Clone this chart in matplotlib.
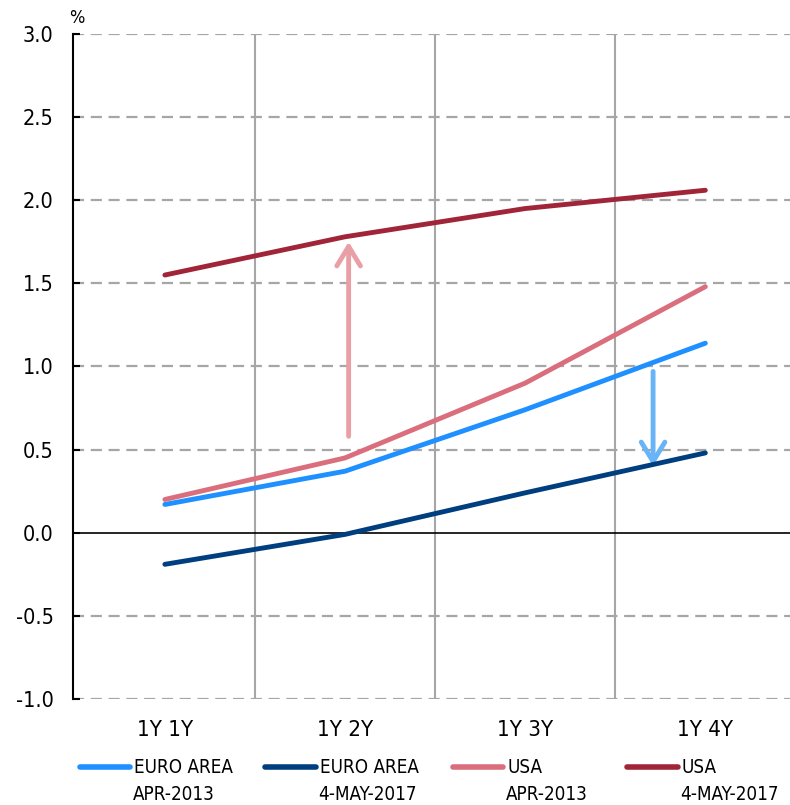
import matplotlib
matplotlib.use("Agg")
import matplotlib.pyplot as plt
from matplotlib.lines import Line2D

plt.rcParams["font.family"] = ["DejaVu Sans"]
plt.rcParams["font.stretch"] = "condensed"

categories = ["1Y 1Y", "1Y 2Y", "1Y 3Y", "1Y 4Y"]
euro_2013 = [0.17, 0.37, 0.74, 1.14]
euro_2017 = [-0.19, -0.01, 0.24, 0.48]
usa_2013 = [0.20, 0.45, 0.90, 1.48]
usa_2017 = [1.55, 1.78, 1.95, 2.06]

series_names = ["EURO AREA\nAPR-2013", "EURO AREA\n4-MAY-2017", "USA\nAPR-2013", "USA\n4-MAY-2017"]
series_colors = ["#1E90FF", "#003F7F", "#DA6E7C", "#A12538"]

# arrows: (x position, start, end)
arrow_up = (2.02, 0.58, 1.75)
arrow_down = (3.71, 0.97, 0.40)

fig = plt.figure(figsize=(7.9, 8.05), dpi=100)
ax = fig.add_axes([0.0924, 0.1317, 0.9076, 0.8261])

x = range(1, len(categories) + 1)
all_series = [euro_2013, euro_2017, usa_2013, usa_2017]
for vals, col in zip(all_series, series_colors):
    ax.plot(x, vals, color=col, lw=3.5, solid_capstyle="round", zorder=4)

head = "->,head_length=1.4,head_width=0.85"
ax.annotate("", xy=(arrow_up[0], arrow_up[2]), xytext=(arrow_up[0], arrow_up[1]),
            arrowprops=dict(arrowstyle=head, color="#E89FA6", lw=3.5,
                            shrinkA=0, shrinkB=0, capstyle="round"), zorder=3)
ax.annotate("", xy=(arrow_down[0], arrow_down[2]), xytext=(arrow_down[0], arrow_down[1]),
            arrowprops=dict(arrowstyle=head, color="#69B3F7", lw=3.5,
                            shrinkA=0, shrinkB=0, capstyle="round"), zorder=3)

ax.set_xlim(0.49, 4.47)
ax.set_ylim(-1.0, 3.0)
ax.set_yticks([-1.0, -0.5, 0.0, 0.5, 1.0, 1.5, 2.0, 2.5, 3.0])
ax.set_yticklabels(["-1.0", "-0.5", "0.0", "0.5", "1.0", "1.5", "2.0", "2.5", "3.0"], fontsize=15.5)
ax.set_xticks(list(x))
ax.set_xticklabels(categories, fontsize=16)

for yv in [-1.0, -0.5, 0.5, 1.0, 1.5, 2.0, 2.5, 3.0]:
    ax.axhline(yv, color="#A6A6A6", lw=1.6, ls=(0, (5, 3)), zorder=1)
ax.axhline(0, color="black", lw=1.2, zorder=2)
for xv in [1.5, 2.5, 3.5]:
    ax.axvline(xv, color="#A6A6A6", lw=1.5, zorder=1)

for s in ["top", "right", "bottom"]:
    ax.spines[s].set_visible(False)
ax.spines["left"].set_linewidth(1.5)
ax.tick_params(axis="y", direction="in", length=5, width=1.5, pad=14)
ax.tick_params(axis="x", length=0, pad=15)

fig.text(0.088, 0.978, "%", fontsize=13, ha="left", va="center")

# legend row below the axis
legend_x = [0.101, 0.336, 0.573, 0.794]
for lx, name, col in zip(legend_x, series_names, series_colors):
    fig.add_artist(Line2D([lx, lx + 0.064], [0.047, 0.047], transform=fig.transFigure,
                          color=col, lw=4, solid_capstyle="round"))
    first, second = name.split("\n")
    fig.text(lx + 0.069, 0.047, first, fontsize=13.5, ha="left", va="center")
    fig.text(lx + 0.067, 0.013, second, fontsize=13.5, ha="left", va="center")

fig.savefig("out.png", dpi=100)
